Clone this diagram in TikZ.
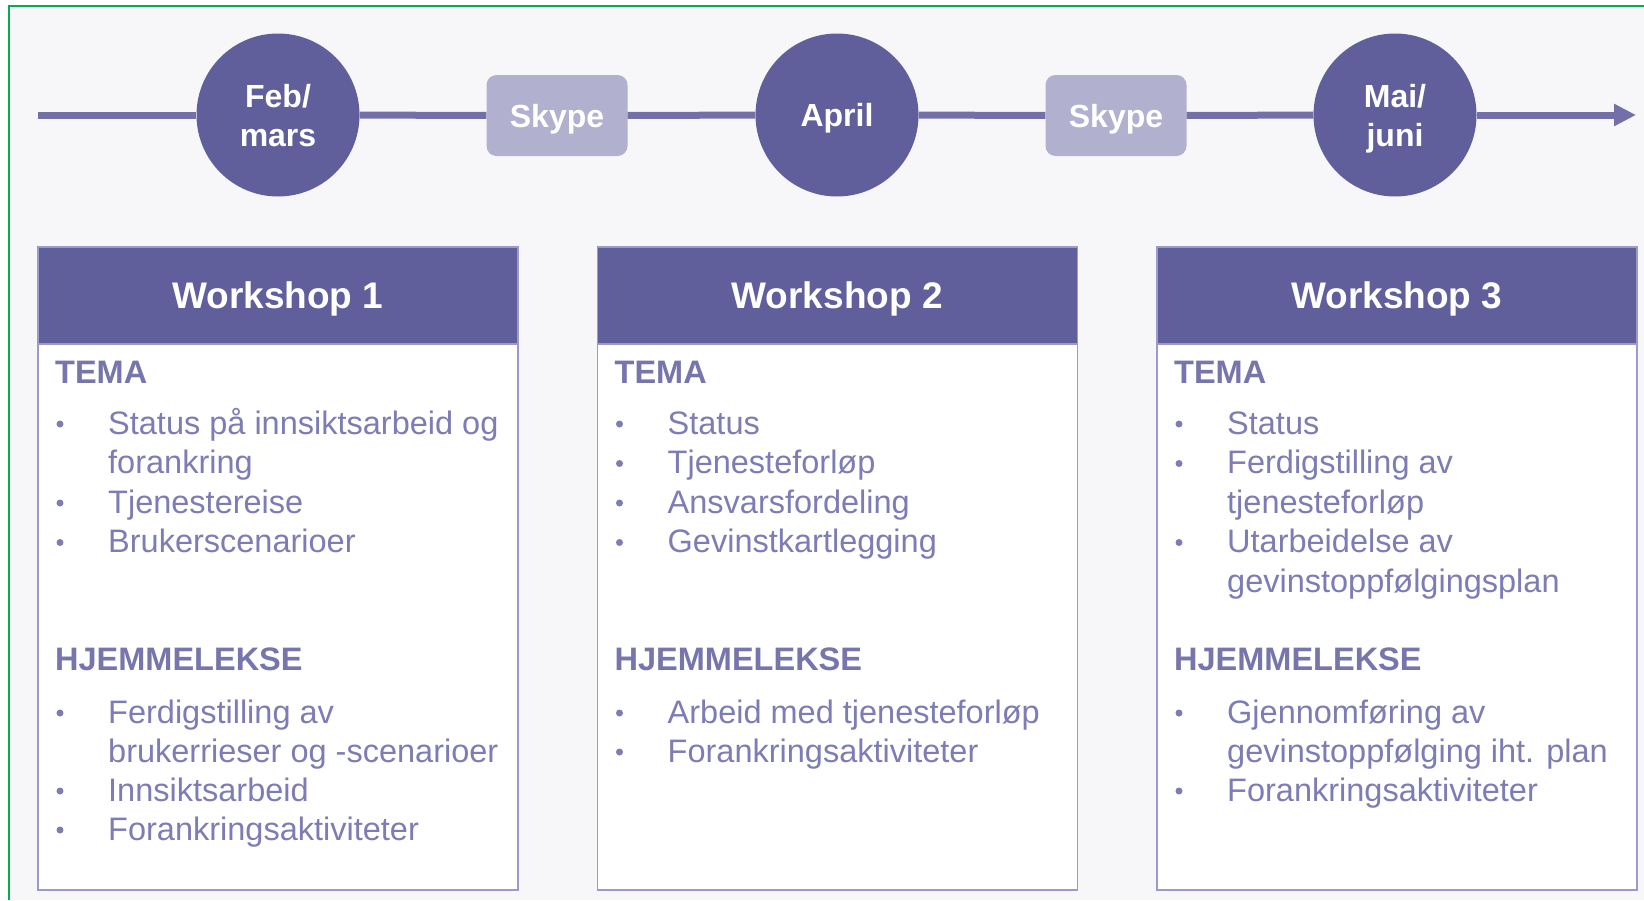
\documentclass[tikz,border=0pt]{standalone}
\usepackage{fontspec}
\setmainfont{Liberation Sans}
\usetikzlibrary{arrows.meta}
\definecolor{bgc}{RGB}{247,247,249}
\definecolor{frm}{RGB}{0,176,80}
\definecolor{dark}{RGB}{96,95,155}
\definecolor{lite}{RGB}{177,176,207}
\definecolor{linec}{RGB}{115,112,168}
\definecolor{bord}{RGB}{155,154,200}
\definecolor{txt}{RGB}{125,124,180}
\definecolor{headc}{RGB}{118,117,172}
\tikzset{
 month/.style={circle, fill=dark, minimum size=163pt, inner sep=0pt, text=white, text depth=0pt,
   font=\fontsize{32}{39}\selectfont\bfseries, align=center},
 skypebox/.style={rounded corners=10pt, fill=lite, minimum width=141pt, minimum height=81pt,
   inner sep=0pt, text=white, text depth=0pt, font=\fontsize{32}{39}\selectfont\bfseries},
 tline/.style={draw=linec, line width=7pt},
 whead/.style={fill=dark, draw=bord, line width=1.5pt, minimum width=480pt, minimum height=97pt,
   inner sep=0pt, anchor=north west, text=white, text depth=0pt, font=\fontsize{37}{44}\selectfont\bfseries},
 wbody/.style={fill=white, draw=bord, line width=1.5pt, minimum width=480pt, minimum height=643pt,
   anchor=north west, inner sep=0pt},
 sect/.style={anchor=base west, inner sep=0pt, text=headc, font=\fontsize{32.5}{39}\selectfont\bfseries},
 itm/.style={anchor=base west, inner sep=0pt, text=txt, font=\fontsize{32.5}{39}\selectfont},
 bdot/.style={circle, fill=txt, inner sep=0pt, minimum size=7pt},
}
\newcommand{\wsbox}[3]{%
  \node[wbody] (b#1) at (#2,246) {};
  \node[whead] (h#1) at (#2,246) {#3};
  \node[sect] (tema#1) at (#2+18,383) {TEMA};
  \node[sect] (hj#1) at (#2+18,670) {HJEMMELEKSE};
}
\newcommand{\wsitem}[4]{%
  \node[bdot] (#1d) at (#2+23,#3-10) {};
  \node[itm] (#1) at (#2+71,#3) {#4};
}
\newcommand{\wscont}[4]{%
  \node[itm] (#1) at (#2+71,#3) {#4};
}
\begin{document}
\begin{tikzpicture}[x=1pt,y=-1pt]
\useasboundingbox (0,0) rectangle (1644,900);
\fill[white] (0,0) rectangle (1644,900);
\fill[bgc] (9,6) rectangle (1644,900);
\draw[frm, line width=2pt] (9,900) -- (9,6) -- (1644,6);

% timeline
\coordinate (tstart) at (38,115);
\coordinate (tend) at (1636,115);
\node[month] (c1) at (278,115) {Feb/\\mars};
\node[skypebox] (s1) at (557,115.5) {Skype};
\node[month] (c2) at (837,115) {April};
\node[skypebox] (s2) at (1116,115.5) {Skype};
\node[month] (c3) at (1395,115) {Mai/\\juni};
\draw[tline] (tstart) -- (c1);
\draw[tline] (c1) -- (s1);
\draw[tline] (s1) -- (c2);
\draw[tline] (c2) -- (s2);
\draw[tline] (s2) -- (c3);
\draw[tline, -{Triangle[width=21pt,length=22pt]}] (c3) -- (tend);

% boxes
\wsbox{1}{37}{Workshop 1}
\wsbox{2}{596.5}{Workshop 2}
\wsbox{3}{1156}{Workshop 3}

% box 1
\wsitem{a1}{37}{434}{Status på innsiktsarbeid og}
\wscont{a2}{37}{473.5}{forankring}
\wsitem{a3}{37}{513}{Tjenestereise}
\wsitem{a4}{37}{552.5}{Brukerscenarioer}
\wsitem{a5}{37}{723}{Ferdigstilling av}
\wscont{a6}{37}{762}{brukerrieser og -scenarioer}
\wsitem{a7}{37}{801}{Innsiktsarbeid}
\wsitem{a8}{37}{840}{Forankringsaktiviteter}

% box 2
\wsitem{m1}{596.5}{434}{Status}
\wsitem{m2}{596.5}{473.5}{Tjenesteforløp}
\wsitem{m3}{596.5}{513}{Ansvarsfordeling}
\wsitem{m4}{596.5}{552.5}{Gevinstkartlegging}
\wsitem{m5}{596.5}{723}{Arbeid med tjenesteforløp}
\wsitem{m6}{596.5}{762}{Forankringsaktiviteter}

% box 3
\wsitem{r1}{1156}{434}{Status}
\wsitem{r2}{1156}{473.5}{Ferdigstilling av}
\wscont{r3}{1156}{513}{tjenesteforløp}
\wsitem{r4}{1156}{552.5}{Utarbeidelse av}
\wscont{r5}{1156}{592}{gevinstoppfølgingsplan}
\wsitem{r6}{1156}{723}{Gjennomføring av}
\wscont{r7}{1156}{762}{gevinstoppfølging iht. plan}
\wsitem{r8}{1156}{801}{Forankringsaktiviteter}
\end{tikzpicture}
\end{document}
